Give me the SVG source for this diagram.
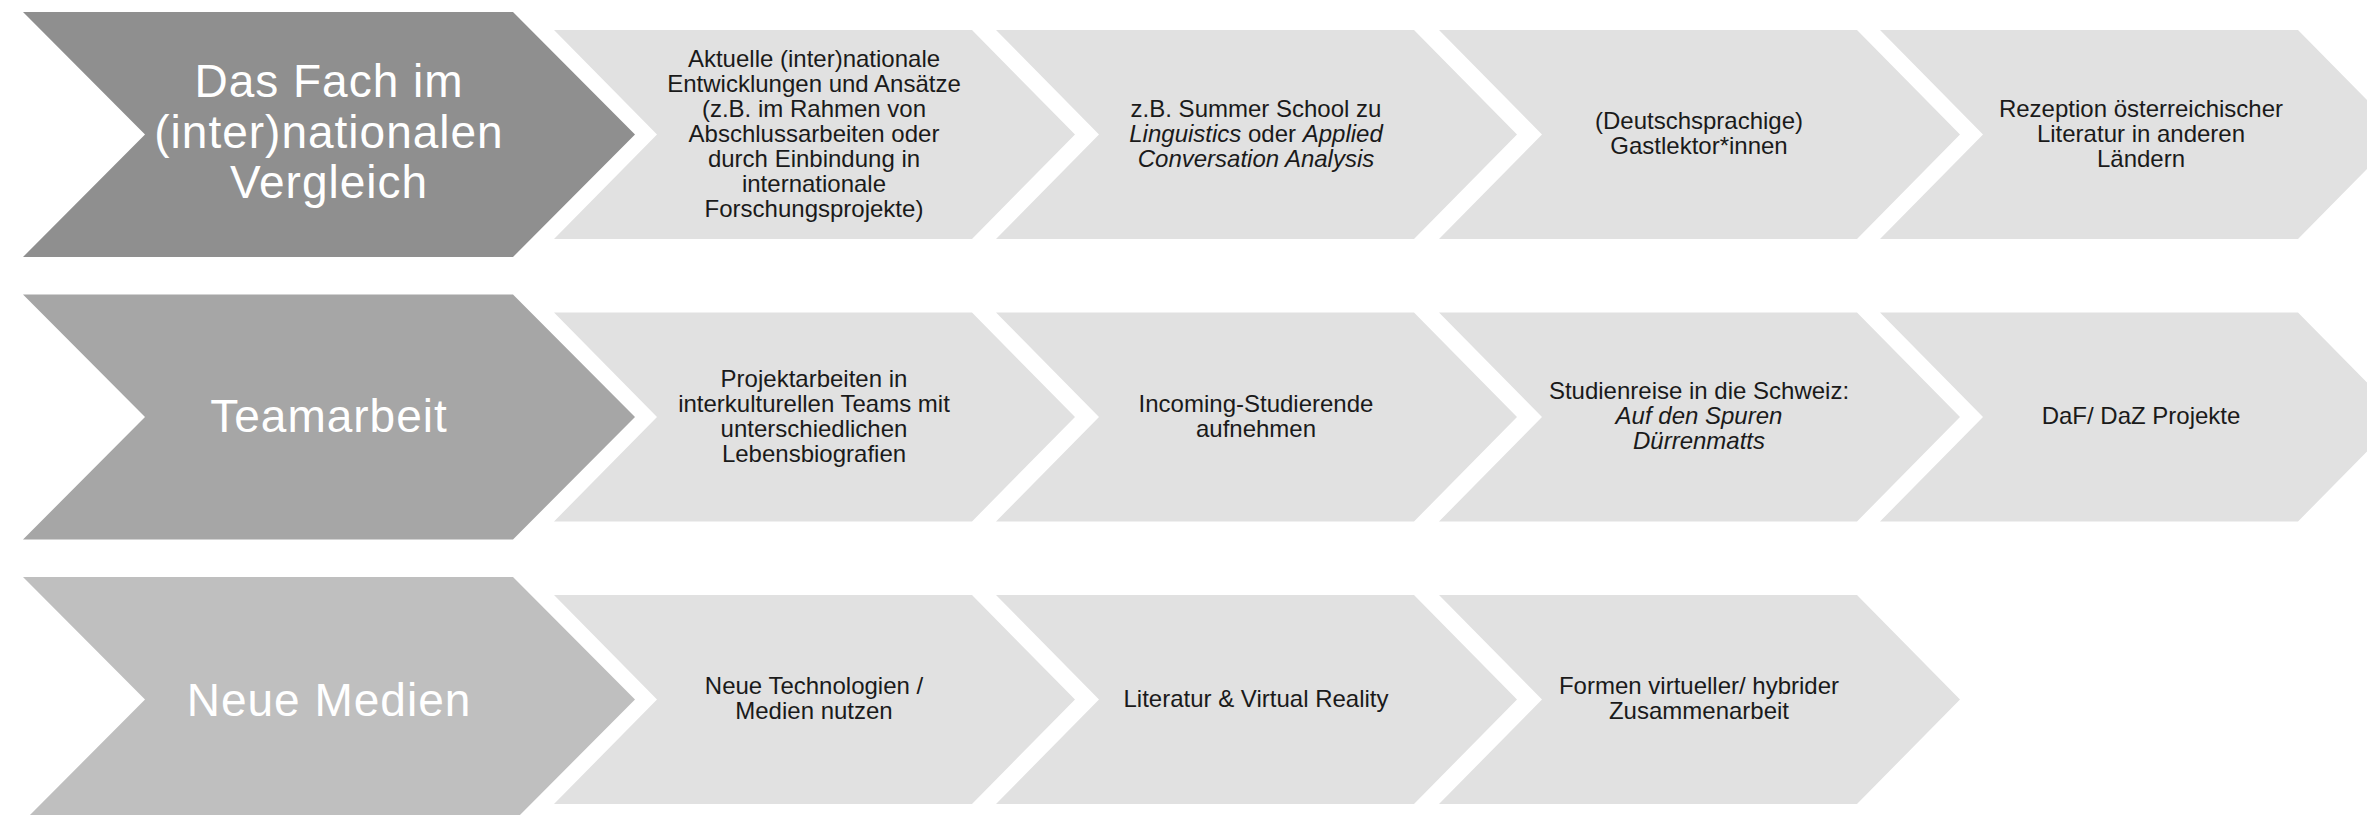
<svg xmlns="http://www.w3.org/2000/svg" width="2367" height="815" viewBox="0 0 2367 815">
<style>
.bg{fill:#ffffff}
.big1{fill:#8f8f8f}
.big2{fill:#a6a6a6}
.big3{fill:#bfbfbf}
.small{fill:#e1e1e1}
.bt{font-family:"Liberation Sans",Arial,sans-serif;font-size:46px;letter-spacing:1px;fill:#ffffff;text-anchor:middle}
.st{font-family:"Liberation Sans",Arial,sans-serif;font-size:24px;fill:#1a1a1a;text-anchor:middle}
.i{font-style:italic}
</style>
<rect class="bg" x="0" y="0" width="2367" height="815"/>

<!-- Row 1 -->
<g id="row1-head">
<polygon class="big1" points="23,12 513,12 635,134.5 513,257 23,257 145,134.5"/>
<text class="bt" x="329" y="97">Das Fach im</text>
<text class="bt" x="329" y="147.5">(inter)nationalen</text>
<text class="bt" x="329" y="198">Vergleich</text>
</g>
<g id="row1-step1">
<polygon class="small" points="554,30 972,30 1075,134.5 972,239 554,239 657,134.5"/>
<text class="st" x="814" y="66.7">Aktuelle (inter)nationale</text>
<text class="st" x="814" y="91.7">Entwicklungen und Ansätze</text>
<text class="st" x="814" y="116.7">(z.B. im Rahmen von</text>
<text class="st" x="814" y="141.7">Abschlussarbeiten oder</text>
<text class="st" x="814" y="166.7">durch Einbindung in</text>
<text class="st" x="814" y="191.7">internationale</text>
<text class="st" x="814" y="216.7">Forschungsprojekte)</text>
</g>
<g id="row1-step2">
<polygon class="small" points="996,30 1414,30 1517,134.5 1414,239 996,239 1099,134.5"/>
<text class="st" x="1256" y="116.7">z.B. Summer School zu</text>
<text class="st" x="1256" y="141.7"><tspan class="i">Linguistics</tspan> oder <tspan class="i">Applied</tspan></text>
<text class="st i" x="1256" y="166.7">Conversation Analysis</text>
</g>
<g id="row1-step3">
<polygon class="small" points="1439,30 1857,30 1960,134.5 1857,239 1439,239 1542,134.5"/>
<text class="st" x="1699" y="129.2">(Deutschsprachige)</text>
<text class="st" x="1699" y="154.2">Gastlektor*innen</text>
</g>
<g id="row1-step4">
<polygon class="small" points="1880,30 2298,30 2401,134.5 2298,239 1880,239 1983,134.5"/>
<text class="st" x="2141" y="116.7">Rezeption österreichischer</text>
<text class="st" x="2141" y="141.7">Literatur in anderen</text>
<text class="st" x="2141" y="166.7">Ländern</text>
</g>

<!-- Row 2 -->
<g id="row2-head">
<polygon class="big2" points="23,294.5 513,294.5 635,417 513,539.5 23,539.5 145,417"/>
<text class="bt" x="329" y="432">Teamarbeit</text>
</g>
<g id="row2-step1">
<polygon class="small" points="554,312.5 972,312.5 1075,417 972,521.5 554,521.5 657,417"/>
<text class="st" x="814" y="386.7">Projektarbeiten in</text>
<text class="st" x="814" y="411.7">interkulturellen Teams mit</text>
<text class="st" x="814" y="436.7">unterschiedlichen</text>
<text class="st" x="814" y="461.7">Lebensbiografien</text>
</g>
<g id="row2-step2">
<polygon class="small" points="996,312.5 1414,312.5 1517,417 1414,521.5 996,521.5 1099,417"/>
<text class="st" x="1256" y="411.7">Incoming-Studierende</text>
<text class="st" x="1256" y="436.7">aufnehmen</text>
</g>
<g id="row2-step3">
<polygon class="small" points="1439,312.5 1857,312.5 1960,417 1857,521.5 1439,521.5 1542,417"/>
<text class="st" x="1699" y="399.2">Studienreise in die Schweiz:</text>
<text class="st i" x="1699" y="424.2">Auf den Spuren</text>
<text class="st i" x="1699" y="449.2">Dürrenmatts</text>
</g>
<g id="row2-step4">
<polygon class="small" points="1880,312.5 2298,312.5 2401,417 2298,521.5 1880,521.5 1983,417"/>
<text class="st" x="2141" y="424.2">DaF/ DaZ Projekte</text>
</g>

<!-- Row 3 -->
<g id="row3-head">
<polygon class="big3" points="23,577 513,577 635,699.5 513,822 23,822 145,699.5"/>
<text class="bt" x="329" y="716">Neue Medien</text>
</g>
<g id="row3-step1">
<polygon class="small" points="554,595 972,595 1075,699.5 972,804 554,804 657,699.5"/>
<text class="st" x="814" y="694.2">Neue Technologien /</text>
<text class="st" x="814" y="719.2">Medien nutzen</text>
</g>
<g id="row3-step2">
<polygon class="small" points="996,595 1414,595 1517,699.5 1414,804 996,804 1099,699.5"/>
<text class="st" x="1256" y="706.7">Literatur &amp; Virtual Reality</text>
</g>
<g id="row3-step3">
<polygon class="small" points="1439,595 1857,595 1960,699.5 1857,804 1439,804 1542,699.5"/>
<text class="st" x="1699" y="694.2">Formen virtueller/ hybrider</text>
<text class="st" x="1699" y="719.2">Zusammenarbeit</text>
</g>
</svg>
